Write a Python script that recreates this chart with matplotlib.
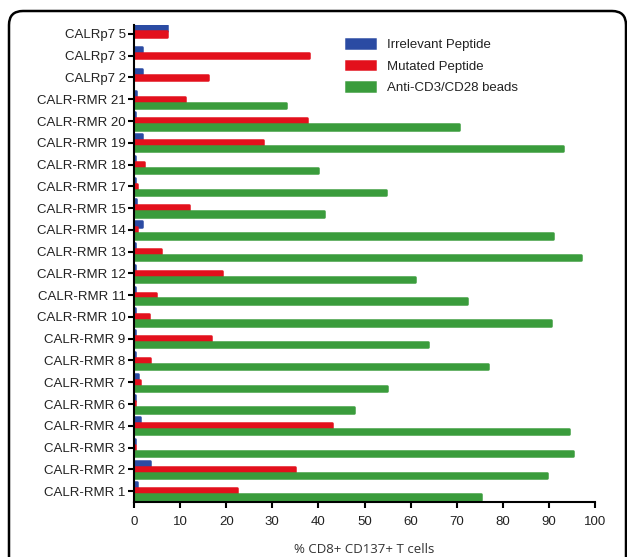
import matplotlib
matplotlib.use("Agg")
import matplotlib.pyplot as plt
import numpy as np
from matplotlib.patches import FancyBboxPatch
from matplotlib.transforms import IdentityTransform

categories = ["CALR-RMR 1", "CALR-RMR 2", "CALR-RMR 3", "CALR-RMR 4", "CALR-RMR 6",
              "CALR-RMR 7", "CALR-RMR 8", "CALR-RMR 9", "CALR-RMR 10", "CALR-RMR 11",
              "CALR-RMR 12", "CALR-RMR 13", "CALR-RMR 14", "CALR-RMR 15", "CALR-RMR 17",
              "CALR-RMR 18", "CALR-RMR 19", "CALR-RMR 20", "CALR-RMR 21",
              "CALRp7 2", "CALRp7 3", "CALRp7 5"]
irrelevant = [0.6, 3.5, 0.3, 1.3, 0.3, 0.8, 0.3, 0.3, 0.3, 0.3, 0.3, 0.3, 1.8, 0.5,
              0.3, 0.3, 1.8, 0.3, 0.5, 1.7, 1.7, 7.1]
mutated = [22.4, 34.9, 0.3, 42.9, 0.3, 1.2, 3.5, 16.8, 3.2, 4.8, 19.0, 5.9, 0.7, 12.0,
           0.6, 2.2, 27.9, 37.5, 11.1, 16.1, 38.0, 7.1]
beads = [75.2, 89.5, 95.3, 94.4, 47.7, 54.8, 76.8, 63.7, 90.5, 72.3, 61.0, 96.9, 90.8,
         41.2, 54.7, 39.9, 93.0, 70.5, 32.9, 0, 0, 0]
series_names = ["Irrelevant Peptide", "Mutated Peptide", "Anti-CD3/CD28 beads"]
colors = ["#2b4ba3", "#e3101c", "#3a9c3c"]
xticks = list(range(0, 101, 10))

plt.rcParams['font.family'] = ['Liberation Sans', 'DejaVu Sans']

W, H = 627, 557
fig = plt.figure(figsize=(W / 100, H / 100), dpi=100)
ax = fig.add_axes([134 / W, (H - 502) / H, (595 - 134) / W, (502 - 25) / H])

y = np.arange(len(categories))
off = 0.275
h = 0.245
for vals, col, dy, name in zip([irrelevant, mutated, beads], colors, [off, 0, -off], series_names):
    v = np.array(vals, dtype=float)
    bars = ax.barh(y + dy, v, height=h, color=col, edgecolor=col, linewidth=1.8, label=name)
    for b, val in zip(bars, v):
        b.set_joinstyle('round')
        if val <= 0:
            b.set_visible(False)

ax.set_xlim(0, 100)
ax.set_ylim(-0.5, len(categories) - 1 + 0.41)
ax.set_yticks(y)
ax.set_yticklabels(categories, fontsize=9.5, color="#222222")
ax.set_xticks(xticks)
ax.set_xticklabels([str(t) for t in xticks], fontsize=9.5, color="#222222")
for s in ["top", "right"]:
    ax.spines[s].set_visible(False)
for s in ["left", "bottom"]:
    ax.spines[s].set_linewidth(1.5)
    ax.spines[s].set_color("black")
ax.tick_params(axis='both', direction='out', length=4, width=1.5, color="black")
ax.tick_params(axis='y', pad=2)
ax.tick_params(axis='x', pad=6)

ax.set_xlabel("% CD8+ CD137+ T cells", fontsize=9.5, family=['Open Sans', 'DejaVu Sans'],
              color="#333333", labelpad=11)

leg = ax.legend(loc='upper left', bbox_to_anchor=((334 - 134) / (595 - 134), 0.995),
                frameon=False, fontsize=9.5, handlelength=2.2, handleheight=0.65,
                handletextpad=0.9, labelspacing=0.7)
for t in leg.get_texts():
    t.set_color("#222222")

frame = FancyBboxPatch((9, -30), 617, H - 10 + 30 - 1, boxstyle="round,pad=0,rounding_size=14",
                       transform=IdentityTransform(), fill=False, edgecolor="black",
                       linewidth=1.8, clip_on=False)
fig.add_artist(frame)

fig.savefig("out.png", dpi=100)
